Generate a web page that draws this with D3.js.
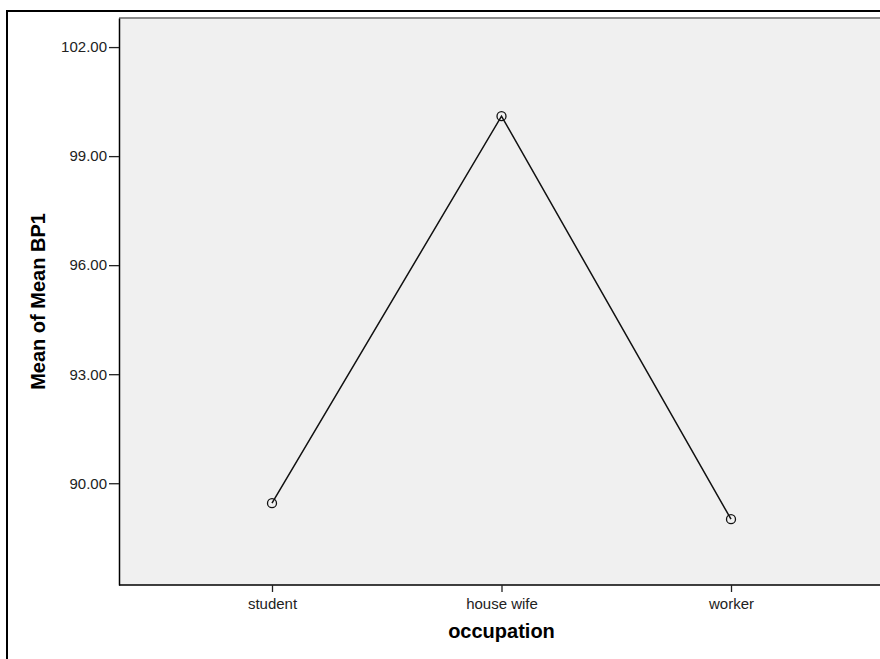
<!DOCTYPE html>
<html>
<head>
<meta charset="utf-8">
<script src="https://cdn.jsdelivr.net/npm/d3@7"></script>
<style>
  html, body { margin: 0; padding: 0; background: #fff; }
  svg { display: block; }
  text { font-family: "Liberation Sans", Arial, sans-serif; }
</style>
</head>
<body>
<svg id="chart" width="880" height="659"></svg>
<script>
const categories = ["student", "house wife", "worker"];
const meanBP1 = [89.45, 100.10, 89.01];
const yTicks = [90, 93, 96, 99, 102];
const xTitle = "occupation";
const yTitle = "Mean of Mean BP1";

const svg = d3.select("#chart");
const W = 880, H = 659;
const plot = { left: 119, top: 18, right: 884, bottom: 585 };

// outer frame
svg.append("rect")
  .attr("x", 7).attr("y", 11)
  .attr("width", W + 10).attr("height", H + 10)
  .attr("fill", "#fff").attr("stroke", "#000").attr("stroke-width", 2);

// plot background
svg.append("rect")
  .attr("x", plot.left).attr("y", plot.top)
  .attr("width", plot.right - plot.left).attr("height", plot.bottom - plot.top)
  .attr("fill", "#f0f0f0").attr("stroke", "none");
// top border grey
svg.append("line")
  .attr("x1", plot.left).attr("x2", W + 5)
  .attr("y1", plot.top).attr("y2", plot.top)
  .attr("stroke", "#8a8a8a").attr("stroke-width", 2);

const x = d3.scalePoint().domain(categories).range([plot.left, plot.right]).padding(2/3);
const y = d3.scaleLinear().domain([87.2, 102.8]).range([plot.bottom, plot.top]);

// Y axis
const yAxis = svg.append("g")
  .attr("transform", `translate(${plot.left},0)`)
  .call(d3.axisLeft(y).tickValues(yTicks).tickFormat(d3.format(".2f"))
    .tickSizeInner(10).tickSizeOuter(0).tickPadding(2));
yAxis.select(".domain").attr("stroke", "#000").attr("stroke-width", 1.5);
yAxis.selectAll(".tick line").attr("stroke", "#222").attr("stroke-width", 1.3);
yAxis.selectAll(".tick text").attr("font-size", 15).attr("fill", "#222")
  .attr("font-family", "'Liberation Sans', Arial, sans-serif");

// X axis
const xAxis = svg.append("g")
  .attr("transform", `translate(0,${plot.bottom})`)
  .call(d3.axisBottom(x).tickSizeInner(7).tickSizeOuter(0).tickPadding(6));
xAxis.select(".domain").attr("stroke", "#000").attr("stroke-width", 1.5)
  .attr("d", `M${plot.left},0H${W + 5}`);
xAxis.selectAll(".tick line").attr("stroke", "#222").attr("stroke-width", 1.3);
xAxis.selectAll(".tick text").attr("font-size", 15).attr("fill", "#222")
  .attr("font-family", "'Liberation Sans', Arial, sans-serif");

// line
const data = categories.map((c, i) => ({ c, v: meanBP1[i] }));
svg.append("path")
  .datum(data)
  .attr("fill", "none")
  .attr("stroke", "#111")
  .attr("stroke-width", 1.5)
  .attr("d", d3.line().x(d => x(d.c)).y(d => y(d.v)));

svg.selectAll("circle.pt")
  .data(data)
  .join("circle")
  .attr("class", "pt")
  .attr("cx", d => x(d.c)).attr("cy", d => y(d.v))
  .attr("r", 4.5)
  .attr("fill", "none").attr("stroke", "#111").attr("stroke-width", 1.3);

// titles
svg.append("text")
  .attr("x", x("house wife")).attr("y", 638)
  .attr("text-anchor", "middle")
  .attr("font-size", 20).attr("font-weight", "bold").attr("fill", "#000")
  .text(xTitle);

svg.append("text")
  .attr("transform", `translate(45,${(plot.top + plot.bottom) / 2}) rotate(-90)`)
  .attr("text-anchor", "middle")
  .attr("font-size", 20).attr("font-weight", "bold").attr("fill", "#000")
  .text(yTitle);
</script>
</body>
</html>
